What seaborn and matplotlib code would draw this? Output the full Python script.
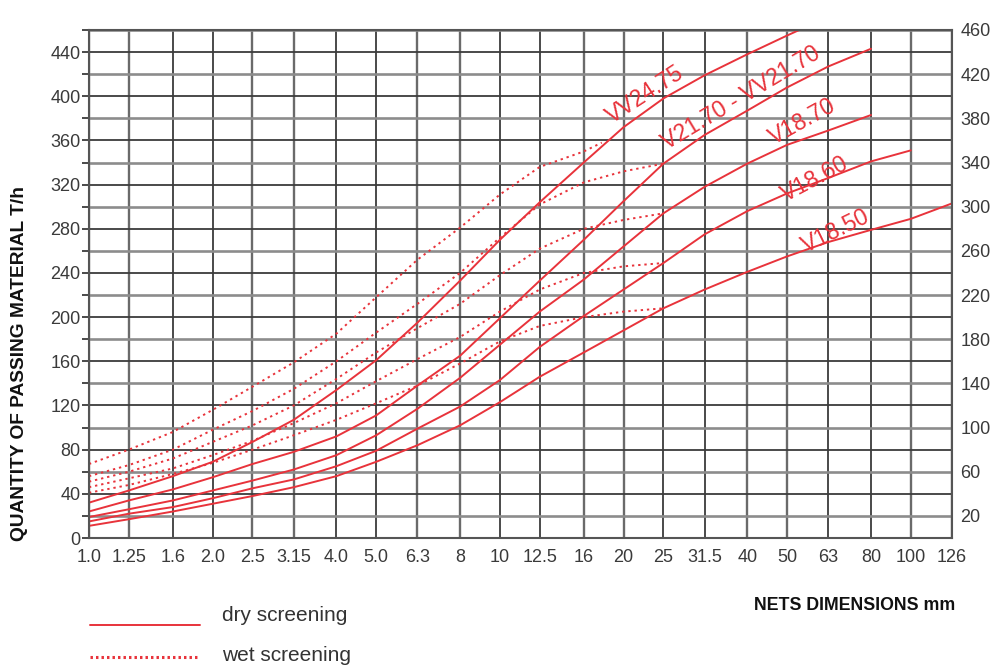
import numpy as np
import pandas as pd
import seaborn as sns
import matplotlib.pyplot as plt
from matplotlib import font_manager
from matplotlib.lines import Line2D

# net sizes (mm) on the x axis
sizes = [1.0, 1.25, 1.6, 2.0, 2.5, 3.15, 4.0, 5.0, 6.3, 8, 10, 12.5, 16, 20, 25, 31.5, 40, 50, 63, 80, 100, 126]
size_labels = ['1.0', '1.25', '1.6', '2.0', '2.5', '3.15', '4.0', '5.0', '6.3', '8', '10',
               '12.5', '16', '20', '25', '31.5', '40', '50', '63', '80', '100', '126']
left_ticks = [0, 40, 80, 120, 160, 200, 240, 280, 320, 360, 400, 440]
right_ticks = [20, 60, 100, 140, 180, 220, 260, 300, 340, 380, 420, 460]

# dry screening, T/h
dry_vv2475_x = [1.0, 1.25, 1.6, 2.0, 2.5, 3.15, 4.0, 5.0, 6.3, 8, 10, 12.5, 16, 20, 25, 31.5, 40, 50, 63]
dry_vv2475 = [32, 43, 56, 69, 87, 107, 134, 161, 195, 233, 270, 304, 340, 372, 398, 419, 438, 455, 472]
dry_v2170_x = [1.0, 1.25, 1.6, 2.0, 2.5, 3.15, 4.0, 5.0, 6.3, 8, 10, 12.5, 16, 20, 25, 31.5, 40, 50, 63, 80]
dry_v2170 = [24, 34, 44, 55, 67, 78, 92, 111, 138, 165, 199, 233, 270, 305, 339, 365, 387, 408, 427, 443]
dry_v1870_x = [1.0, 1.25, 1.6, 2.0, 2.5, 3.15, 4.0, 5.0, 6.3, 8, 10, 12.5, 16, 20, 25, 31.5, 40, 50, 63, 80]
dry_v1870 = [19, 26, 34, 43, 52, 62, 75, 93, 117, 145, 175, 205, 234, 264, 294, 318, 339, 356, 369, 383]
dry_v1860_x = [1.0, 1.25, 1.6, 2.0, 2.5, 3.15, 4.0, 5.0, 6.3, 8, 10, 12.5, 16, 20, 25, 31.5, 40, 50, 63, 80, 100]
dry_v1860 = [15, 22, 28, 36, 45, 53, 65, 79, 99, 119, 143, 173, 201, 225, 249, 275, 296, 312, 326, 341, 351]
dry_v1850_x = sizes
dry_v1850 = [11, 17, 24, 31, 38, 46, 56, 69, 84, 102, 123, 146, 168, 188, 208, 225, 241, 255, 268, 279, 289, 303]

# wet screening, T/h
wet_vv2475_x = [1.0, 1.25, 1.6, 2.0, 2.5, 3.15, 4.0, 5.0, 6.3, 8, 10, 12.5, 16, 17.7]
wet_vv2475 = [67, 80, 96, 116, 137, 159, 185, 218, 252, 281, 311, 336, 350, 358]
wet_x = [1.0, 1.25, 1.6, 2.0, 2.5, 3.15, 4.0, 5.0, 6.3, 8, 10, 12.5, 16, 20, 25]
wet_v2170 = [56, 66, 80, 98, 115, 135, 160, 186, 212, 240, 272, 302, 322, 332, 339]
wet_v1870 = [51, 60, 72, 87, 102, 120, 144, 168, 190, 212, 238, 262, 280, 288, 294]
wet_v1860 = [46, 54, 63, 75, 88, 104, 122, 142, 162, 182, 205, 225, 240, 246, 249]
wet_v1850 = [41, 48, 58, 68, 80, 93, 107, 122, 138, 158, 178, 192, 200, 205, 208]

series = [
    ('VV24.75 dry', 'dry', dry_vv2475_x, dry_vv2475),
    ('V21.70 dry', 'dry', dry_v2170_x, dry_v2170),
    ('V18.70 dry', 'dry', dry_v1870_x, dry_v1870),
    ('V18.60 dry', 'dry', dry_v1860_x, dry_v1860),
    ('V18.50 dry', 'dry', dry_v1850_x, dry_v1850),
    ('VV24.75 wet', 'wet', wet_vv2475_x, wet_vv2475),
    ('V21.70 wet', 'wet', wet_x, wet_v2170),
    ('V18.70 wet', 'wet', wet_x, wet_v1870),
    ('V18.60 wet', 'wet', wet_x, wet_v1860),
    ('V18.50 wet', 'wet', wet_x, wet_v1850),
]
df = pd.concat([pd.DataFrame({'size': x, 'rate': y, 'curve': name, 'screening': kind})
                for name, kind, x, y in series], ignore_index=True)

names = {f.name for f in font_manager.fontManager.ttflist}
narrow = 'Liberation Sans Narrow' if 'Liberation Sans Narrow' in names else 'Liberation Sans'
red = '#e8333b'
grid_dark = '#3c3c3c'
grid_light = '#8c8c8c'
tick_size = 13

sns.set_style('white')
plt.rcParams['font.family'] = ['Liberation Sans', 'DejaVu Sans']

fig = plt.figure(figsize=(9.94, 6.68), dpi=100)
ax = fig.add_axes([0.0895, 0.1946, 0.8683, 0.7605])

sns.lineplot(data=df, x='size', y='rate', units='curve', estimator=None, sort=False,
             style='screening', dashes={'dry': '', 'wet': (1.2, 2.0)},
             color=red, lw=1.4, legend=False, ax=ax)

ax.set_xscale('log')
ax.set_xlim(1.0, 126)
ax.set_ylim(0, 460)
ax.set_xticks(sizes)
ax.set_xticklabels(size_labels)
ax.xaxis.set_minor_locator(plt.NullLocator())
ax.set_yticks(np.arange(0, 461, 20))
ax.set_yticklabels([str(v) if v in left_ticks else '' for v in np.arange(0, 461, 20)])
ax.set_xlabel('')
ax.set_ylabel('')

ax.grid(True, color=grid_dark, lw=1.3)
for i, gl in enumerate(ax.get_ygridlines()):
    if i % 2 == 1:
        gl.set_color(grid_light)
        gl.set_linewidth(1.9)
for i, gl in enumerate(ax.get_xgridlines()):
    if i % 4 in (0, 1):
        gl.set_color('#6a6a6a')
        gl.set_linewidth(1.7)
ax.set_axisbelow(True)
for sp in ax.spines.values():
    sp.set_color('#555555')
    sp.set_linewidth(1.5)

ax.tick_params(axis='both', direction='out', length=5, width=1.3, color=grid_dark,
               labelcolor='#3a3a3a', labelsize=tick_size)
ax.tick_params(axis='x', pad=3)
ax.tick_params(axis='y', pad=1, right=True)
for lab in ax.get_xticklabels() + ax.get_yticklabels():
    lab.set_family(narrow)

ax2 = ax.twinx()
ax2.set_ylim(0, 460)
ax2.set_yticks(right_ticks)
ax2.set_yticklabels([str(v) for v in right_ticks])
ax2.tick_params(axis='y', length=0, pad=6, labelcolor='#3a3a3a', labelsize=tick_size)
for lab in ax2.get_yticklabels():
    lab.set_family(narrow)
for sp in ax2.spines.values():
    sp.set_visible(False)

# model labels along the curves
curve_labels = [('VV24.75', 22.5, 401, 33), ('V21.70 - VV21.70', 38.7, 398, 31),
                ('V18.70', 54.6, 377, 29), ('V18.60', 58.4, 325, 28), ('V18.50', 65.7, 278, 26)]
for txt, x, y, rot in curve_labels:
    ax.text(x, y, txt, color=red, fontsize=16.5, rotation=rot, ha='center', va='center',
            rotation_mode='anchor')

fig.text(0.020, 0.456, 'QUANTITY OF PASSING MATERIAL T/h', rotation=90, ha='center', va='center',
         fontsize=13.8, fontweight='bold', color='#111111')
fig.text(0.860, 0.094, 'NETS DIMENSIONS mm', ha='center', va='center',
         fontsize=12.8, fontweight='bold', color='#111111')

# legend
fig.add_artist(Line2D([90 / 994, 200 / 994], [1 - 625 / 668, 1 - 625 / 668], color=red, lw=1.4))
fig.add_artist(Line2D([90 / 994, 200 / 994], [1 - 657 / 668, 1 - 657 / 668], color=red, lw=2.2,
                      linestyle=(0, (0.8, 1.0))))
fig.text(222 / 994, 1 - 621 / 668, 'dry screening', family=narrow, fontsize=15, color='#333333',
         va='baseline')
fig.text(222 / 994, 1 - 661 / 668, 'wet screening', family=narrow, fontsize=15, color='#333333',
         va='baseline')

fig.savefig('out.png', dpi=100)
